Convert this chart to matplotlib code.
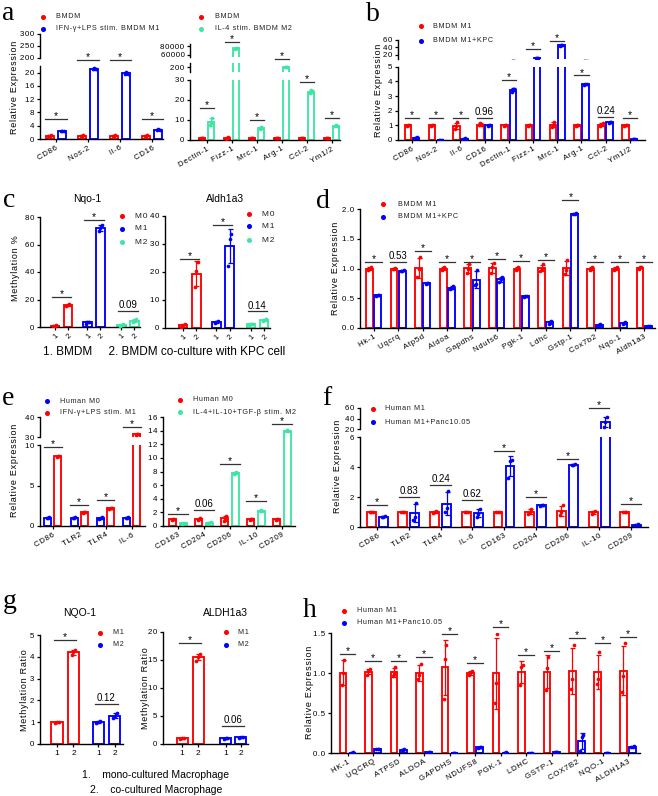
import matplotlib
matplotlib.use('Agg')
import matplotlib.pyplot as plt
from matplotlib.lines import Line2D
import numpy as np

plt.rcParams['font.family'] = ['Liberation Sans', 'DejaVu Sans']

RED = '#ff0000'
BLUE = '#0000ff'
GREEN = '#3ee6a6'

# ---------------- data (replicates per bar) ----------------
# a, left: M1 markers
a1_genes = ['CD86', 'Nos-2', 'Il-6', 'CD16']
a1_bmdm = [[0.85, 1.0, 1.15], [0.9, 1.0, 1.1], [0.8, 1.05, 1.15], [0.9, 1.0, 1.1]]
a1_m1 = [[2.4, 2.55, 2.5], [21.0, 21.5, 21.1], [19.6, 20.1, 19.7], [2.7, 2.9, 2.8]]
a1_sig = ['*', '*', '*', '*']

# a, right: M2 markers
a2_genes = ['Dectin-1', 'Fizz-1', 'Mrc-1', 'Arg-1', 'Ccl-2', 'Ym1/2']
a2_bmdm = [[0.8, 1.0, 1.2], [0.7, 1.0, 1.5], [0.9, 1.0, 1.1], [0.9, 1.0, 1.1], [0.9, 1.0, 1.1], [0.9, 1.0, 1.1]]
a2_m2 = [[7.5, 8.5, 11.0], [74000, 75500, 76500], [5.5, 6.5, 6.0], [200, 215, 212], [23.5, 25.0, 24.2], [6.8, 7.4, 7.2]]
a2_sig = ['*', '*', '*', '*', '*', '*']

# b
b_genes = ['CD86', 'Nos-2', 'Il-6', 'CD16', 'Dectin-1', 'Fizz-1', 'Mrc-1', 'Arg-1', 'Ccl-2', 'Ym1/2']
b_m1 = [[0.95, 1.0, 1.05], [0.95, 1.0, 1.05], [0.75, 0.95, 1.2], [1.0, 1.15, 1.0], [0.97, 1.0, 1.03],
        [0.96, 1.0, 1.04], [0.9, 1.05, 1.2], [0.97, 1.0, 1.03], [0.95, 1.05, 1.15], [0.97, 1.0, 1.03]]
b_kpc = [[0.12, 0.15, 0.2], [0.01, 0.02, 0.03], [0.08, 0.12, 0.1], [0.98, 1.0, 1.02], [3.3, 3.45, 3.5],
         [12.0, 12.3, 12.1], [44, 45.5, 45], [3.75, 3.85, 3.8], [1.15, 1.25, 1.2], [0.04, 0.06, 0.05]]
b_sig = ['*', '*', '*', '0.96', '*', '*', '*', '*', '0.24', '*']

# c: methylation %
c_ticks = ['1', '2']
c_nqo_m0 = [[0.5, 1.0, 1.5], [15.5, 16.0, 16.5]]
c_nqo_m1 = [[2.5, 3.5, 4.0], [70, 72, 74.5]]
c_nqo_m2 = [[1.0, 1.5, 2.0], [3.5, 4.5, 5.5]]
c_nqo_sig = ['*', '*', '0.09']
c_ald_m0 = [[0.5, 1.0, 1.4], [14.5, 20.3, 23.5]]
c_ald_m1 = [[1.8, 2.3, 2.6], [22.3, 31.8, 33.5]]
c_ald_m2 = [[1.0, 1.4, 1.6], [2.4, 2.8, 3.2]]
c_ald_sig = ['*', '*', '0.14']

# d
d_genes = ['Hk-1', 'Uqcrq', 'Atp5d', 'Aldoa', 'Gapdhs', 'Ndufs6', 'Pgk-1', 'Ldhc', 'Gstp-1', 'Cox7b2', 'Nqo-1', 'Aldh1a3']
d_m1 = [[0.98, 1.0, 1.02], [0.99, 1.0, 1.01], [0.85, 1.0, 1.19], [0.98, 1.0, 1.02], [0.93, 1.0, 1.08],
        [0.92, 1.02, 1.09], [0.98, 1.0, 1.02], [0.96, 1.0, 1.07], [0.9, 0.98, 1.14], [0.98, 1.0, 1.02],
        [0.97, 1.0, 1.03], [1.0, 1.02, 1.03]]
d_kpc = [[0.54, 0.55, 0.56], [0.95, 0.96, 0.97], [0.74, 0.75, 0.76], [0.66, 0.68, 0.7], [0.72, 0.74, 0.98],
         [0.78, 0.82, 0.86], [0.52, 0.53, 0.54], [0.07, 0.1, 0.12], [1.91, 1.92, 1.93], [0.03, 0.05, 0.06],
         [0.07, 0.08, 0.1], [0.02, 0.03, 0.04]]
d_sig = ['*', '0.53', '*', '*', '*', '*', '*', '*', '*', '*', '*', '*']

# e, left
e1_genes = ['CD86', 'TLR2', 'TLR4', 'IL-6']
e1_m0 = [[0.95, 1.0, 1.05], [0.95, 1.0, 1.05], [0.9, 1.0, 1.1], [0.95, 1.0, 1.05]]
e1_m1 = [[8.5, 8.7, 8.6], [1.65, 1.75, 1.7], [2.15, 2.25, 2.2], [31.0, 31.6, 31.3]]
e1_sig = ['*', '*', '*', '*']

# e, right
e2_genes = ['CD163', 'CD204', 'CD206', 'IL-10', 'CD209']
e2_m0 = [[0.9, 1.0, 1.1], [0.85, 1.0, 1.15], [0.8, 1.1, 1.5], [0.85, 1.0, 1.1], [0.95, 1.0, 1.05]]
e2_m2 = [[0.35, 0.4, 0.45], [0.45, 0.5, 0.55], [7.7, 7.8, 7.9], [2.2, 2.3, 2.25], [13.9, 14.1, 14.0]]
e2_sig = ['*', '0.06', '*', '*', '*']

# f
f_genes = ['CD86', 'TLR2', 'TLR4', 'IL-6', 'CD163', 'CD204', 'CD206', 'IL-10', 'CD209']
f_m1 = [[0.97, 1.0, 1.03], [0.97, 1.0, 1.03], [0.95, 1.0, 1.05], [0.98, 1.0, 1.02], [0.97, 1.0, 1.03],
        [0.85, 1.0, 1.2], [0.8, 1.0, 1.45], [0.9, 1.0, 1.1], [0.97, 1.0, 1.03]]
f_panc = [[0.65, 0.7, 0.72], [0.5, 0.7, 1.6], [1.0, 1.3, 2.4], [0.7, 0.85, 1.2], [3.3, 4.4, 4.5],
          [1.43, 1.45, 1.47], [4.13, 4.15, 4.17], [24, 33, 43], [0.13, 0.15, 0.17]]
f_sig = ['*', '0.83', '0.24', '0.62', '*', '*', '*', '*', '*']

# g: methylation ratio
g_nqo_m1 = [[0.97, 1.0, 1.03], [4.1, 4.2, 4.3]]
g_nqo_m2 = [[0.95, 1.0, 1.05], [1.2, 1.3, 1.4]]
g_nqo_sig = ['*', '0.12']
g_ald_m1 = [[0.95, 1.0, 1.05], [14.9, 15.6, 16.1]]
g_ald_m2 = [[0.95, 1.0, 1.05], [1.1, 1.2, 1.3]]
g_ald_sig = ['*', '0.06']

# h
h_genes = ['HK-1', 'UQCRQ', 'ATPSD', 'ALDOA', 'GAPDHS', 'NDUFS8', 'PGK-1', 'LDHC', 'GSTP-1', 'COX7B2', 'NQO-1', 'ALDH1A3']
h_m1 = [[0.85, 1.0, 1.16], [0.98, 1.02, 1.05], [0.96, 0.99, 1.07], [0.92, 0.97, 1.11], [0.68, 1.18, 1.35],
        [0.98, 1.0, 1.03], [0.62, 0.88, 1.49], [0.85, 1.08, 1.1], [0.79, 1.06, 1.2], [0.8, 0.93, 1.35],
        [0.86, 0.93, 1.26], [0.76, 0.96, 1.37]]
h_panc = [[0.0, 0.005, 0.01], [0.045, 0.05, 0.055], [0.035, 0.04, 0.045], [0.005, 0.01, 0.015],
          [0.0, 0.003, 0.006], [0.065, 0.07, 0.075], [0.002, 0.005, 0.008], [0.0, 0.003, 0.006],
          [0.008, 0.012, 0.016], [0.03, 0.2, 0.22], [0.0, 0.002, 0.004], [0.075, 0.08, 0.085]]
h_sig = ['*'] * 12

# ---------------- helpers ----------------
W, H = 658, 796
fig = plt.figure(figsize=(W / 100, H / 100), dpi=100)


def ax_px(l, t, r, b):
    return fig.add_axes([l / W, 1 - b / H, (r - l) / W, (b - t) / H])


def ls(s):
    # wide letter spacing like the Prism export
    return '\u200a'.join(s)


def style(ax, ylim, yticks, xlim, ylabels=None, bottom=True):
    ax.set_ylim(*ylim)
    ax.set_xlim(*xlim)
    ax.set_yticks(yticks)
    if ylabels is None:
        ylabels = [str(v) for v in yticks]
    ax.set_yticklabels([ls(s) for s in ylabels], fontsize=5.7)
    for s in ['top', 'right']:
        ax.spines[s].set_visible(False)
    ax.spines['left'].set_linewidth(1.0)
    ax.spines['bottom'].set_linewidth(1.0)
    ax.tick_params(direction='out', length=2.5, width=0.9, pad=1.5)
    if not bottom:
        ax.spines['bottom'].set_visible(False)
        ax.set_xticks([])
    ax.patch.set_alpha(0)


def xlabels(ax, xs, labels, rot=30, fs=5.7):
    ax.set_xticks(xs)
    if rot:
        ax.set_xticklabels([ls(s) for s in labels], fontsize=fs, rotation=rot,
                           ha='right', rotation_mode='anchor')
    else:
        ax.set_xticklabels(labels, fontsize=fs)


def bars(axes, xs, reps, color, width):
    m = np.array([np.mean(r) for r in reps])
    sd = np.array([np.std(r, ddof=1) for r in reps])
    for ax in axes:
        ax.bar(xs, m, width, color='white', edgecolor=color, linewidth=1.35, zorder=2)
        ax.errorbar(xs, m, yerr=sd, fmt='none', ecolor=color, elinewidth=0.9,
                    capsize=1.8, capthick=0.9, zorder=3)
        for x, r in zip(xs, reps):
            ax.scatter(x + np.array([-1, 0, 1]) * width * 0.18, r, s=7, color=color,
                       zorder=4, linewidths=0)


def sig(ax, x, y, label, half):
    ax.plot([x - half, x + half], [y, y], color='#333333', lw=0.9, clip_on=False, zorder=5)
    if label == '*':
        ax.annotate(label, (x, y), xytext=(0, -1.5), textcoords='offset points',
                    ha='center', va='bottom', fontsize=7.5, annotation_clip=False)
    else:
        ax.annotate(label, (x, y), xytext=(0, 0.5), textcoords='offset points',
                    ha='center', va='bottom', fontsize=7, annotation_clip=False)


def legend(x, ys, colors, labels, tx, fs=5.2):
    for y, c, lab in zip(ys, colors, labels):
        fig.add_artist(Line2D([x / W], [1 - y / H], marker='o', ms=2.6, color=c,
                              linestyle='none', transform=fig.transFigure))
        fig.text(tx / W, 1 - y / H, ls(lab), va='center', fontsize=fs, color='#222222')


def ylab(x, y, s, fs=6.5, spaced=True):
    fig.text(x / W, 1 - y / H, ls(s) if spaced else s, rotation=90, ha='center', va='center', fontsize=fs)


def letter(x, y, s):
    fig.text(x / W, 1 - y / H, s, fontsize=20, family='Liberation Serif', va='baseline')


# ---------------- a ----------------
x = np.arange(len(a1_genes))
axl = ax_px(40, 66, 163, 139)
axu = ax_px(40, 34, 163, 58)
style(axl, (0, 22), [0, 4, 8, 12, 16, 20], (-0.5, 3.34))
style(axu, (200, 300), [200, 250, 300], (-0.5, 3.34), bottom=False)
bars([axl, axu], x - 0.19, a1_bmdm, RED, 0.25)
bars([axl, axu], x + 0.19, a1_m1, BLUE, 0.25)
xlabels(axl, x, a1_genes)
for i, h in enumerate([6, 23.7, 23.7, 6]):
    sig(axl, i, h, a1_sig[i], 0.33)

x = np.arange(len(a2_genes))
axl = ax_px(190, 80, 340, 140)
axm = ax_px(190, 63, 340, 72)
axu = ax_px(190, 44, 340, 57)
style(axl, (0, 30), [0, 10, 20, 30], (-0.66, 5.34))
style(axm, (100, 300), [200], (-0.66, 5.34), bottom=False)
style(axu, (55500, 84500), [60000, 80000], (-0.66, 5.34), bottom=False)
bars([axl, axm, axu], x - 0.17, a2_bmdm, RED, 0.24)
bars([axl, axm, axu], x + 0.17, a2_m2, GREEN, 0.24)
xlabels(axl, x, a2_genes)
sig(axl, 0, 16, a2_sig[0], 0.28)
sig(axu, 1, 88900, a2_sig[1], 0.28)
sig(axl, 2, 10, a2_sig[2], 0.28)
sig(axm, 3, 387, a2_sig[3], 0.28)
sig(axl, 4, 29, a2_sig[4], 0.28)
sig(axl, 5, 11, a2_sig[5], 0.28)

legend(43, [17, 29], [RED, BLUE], ['BMDM', 'IFN-γ+LPS stim. BMDM M1'], 56)
legend(201, [17, 29], [RED, GREEN], ['BMDM', 'IL-4 stim. BMDM M2'], 215)
ylab(15, 87, 'Relative Expression')
letter(2, 20, 'a')

# ---------------- b ----------------
x = np.arange(len(b_genes))
axl = ax_px(398, 66.7, 645, 140)
axu = ax_px(398, 39.7, 645, 58.7)
style(axl, (0, 5), [0, 1, 2, 3, 4, 5], (-0.58, 9.63))
style(axu, (10, 60), [20, 40, 60], (-0.58, 9.63), bottom=False)
bars([axl, axu], x - 0.17, b_m1, RED, 0.27)
bars([axl, axu], x + 0.17, b_kpc, BLUE, 0.27)
xlabels(axl, x, b_genes)
for i, h in enumerate([1.5, 1.5, 1.5, 1.5, 4.1, None, None, 4.4, 1.6, 1.5]):
    if h is not None:
        sig(axl, i, h, b_sig[i], 0.3)
sig(axu, 5, 35.5, b_sig[5], 0.3)
sig(axu, 6, 55.8, b_sig[6], 0.3)
legend(421, [26, 41], [RED, BLUE], ['BMDM M1', 'BMDM M1+KPC'], 433)
ylab(378, 90, 'Relative Expression')
letter(366, 21, 'b')

# ---------------- c ----------------
pos = np.array([0, 1, 2.5, 3.5, 5.1, 6.1])
ax = ax_px(40, 217, 140, 327)
style(ax, (0, 80), [0, 20, 40, 60, 80], (-1.15, 6.54))
bars([ax], pos[0:2], c_nqo_m0, RED, 0.65)
bars([ax], pos[2:4], c_nqo_m1, BLUE, 0.65)
bars([ax], pos[4:6], c_nqo_m2, GREEN, 0.65)
xlabels(ax, pos, c_ticks * 3, rot=45, fs=5.5)
for k, h in enumerate([22, 78, 11.6]):
    sig(ax, pos[2 * k] + 0.5, h, c_nqo_sig[k], 0.75)
legend(122, [216, 229, 242], [RED, BLUE, GREEN], ['M0', 'M1', 'M2'], 135, fs=6)
fig.text(87 / W, 1 - 199 / H, 'Nqo-1', ha='center', va='center', fontsize=7.5)

ax = ax_px(165, 216, 270, 328)
style(ax, (0, 40), [0, 10, 20, 30, 40], (-1.35, 6.54))
bars([ax], pos[0:2], c_ald_m0, RED, 0.65)
bars([ax], pos[2:4], c_ald_m1, BLUE, 0.65)
bars([ax], pos[4:6], c_ald_m2, GREEN, 0.65)
xlabels(ax, pos, c_ticks * 3, rot=45, fs=5.5)
for k, h in enumerate([24.6, 36.8, 6]):
    sig(ax, pos[2 * k] + 0.5, h, c_ald_sig[k], 0.72)
legend(249, [214, 226, 240], [RED, BLUE, GREEN], ['M0', 'M1', 'M2'], 262, fs=6)
fig.text(225 / W, 1 - 199 / H, 'Aldh1a3', ha='center', va='center', fontsize=7.5)

fig.text(43 / W, 1 - 352 / H, '1. BMDM     2. BMDM co-culture with KPC cell', va='center', fontsize=8.5)
ylab(15, 268, 'Methylation %')
letter(3, 207, 'c')

# ---------------- d ----------------
x = np.arange(len(d_genes))
ax = ax_px(360, 209, 655, 328)
style(ax, (0, 2), [0, 0.5, 1, 1.5, 2], (-0.55, 11.44), ['0.0', '0.5', '1.0', '1.5', '2.0'])
bars([ax], x - 0.17, d_m1, RED, 0.28)
bars([ax], x + 0.17, d_kpc, BLUE, 0.28)
xlabels(ax, x, d_genes)
for i, h in enumerate([1.11, 1.11, 1.3, 1.11, 1.11, 1.16, 1.13, 1.14, 2.15, 1.11, 1.11, 1.11]):
    sig(ax, i, h, d_sig[i], 0.33)
legend(383, [204, 217], [RED, BLUE], ['BMDM M1', 'BMDM M1+KPC'], 398)
ylab(336, 268, 'Relative Expression')
letter(316, 208, 'd')

# ---------------- e ----------------
x = np.arange(len(e1_genes))
axl = ax_px(40, 445, 145, 526)
axu = ax_px(40, 417, 145, 437)
style(axl, (0, 10), [0, 5, 10], (-0.49, 3.5))
style(axu, (30, 40), [30, 40], (-0.49, 3.5), bottom=False)
bars([axl, axu], x - 0.19, e1_m0, BLUE, 0.27)
bars([axl, axu], x + 0.19, e1_m1, RED, 0.27)
xlabels(axl, x, e1_genes)
for i, h in enumerate([9.75, 2.6, 3.2]):
    sig(axl, i, h, e1_sig[i], 0.34)
sig(axu, 3, 35.2, e1_sig[3], 0.34)

x = np.arange(len(e2_genes))
ax = ax_px(163, 417, 295, 526)
style(ax, (0, 16), [0, 2, 4, 6, 8, 10, 12, 14, 16], (-0.58, 4.5))
bars([ax], x - 0.2, e2_m0, RED, 0.27)
bars([ax], x + 0.2, e2_m2, GREEN, 0.27)
xlabels(ax, x, e2_genes)
for i, h in enumerate([1.75, 2.35, 9.1, 3.7, 14.9]):
    sig(ax, i, h, e2_sig[i], 0.38)

legend(47, [401, 413], [BLUE, RED], ['Human M0', 'IFN-γ+LPS stim. M1'], 60)
legend(180, [400, 412], [RED, GREEN], ['Human M0', 'IL-4+IL-10+TGF-β stim. M2'], 193)
ylab(15, 470, 'Relative Expression')
letter(2, 405, 'e')

# ---------------- f ----------------
x = np.arange(len(f_genes))
axl = ax_px(360, 437, 648, 527)
axu = ax_px(360, 408, 648, 429)
style(axl, (0, 6), [0, 2, 4, 6], (-0.54, 8.54))
style(axu, (20, 60), [20, 40, 60], (-0.54, 8.54), bottom=False)
bars([axl, axu], x - 0.19, f_m1, RED, 0.28)
bars([axl, axu], x + 0.19, f_panc, BLUE, 0.28)
xlabels(axl, x, f_genes)
for i, h in enumerate([1.47, 2.0, 2.8, 1.8, 5.07, 2.0, 4.53, None, 1.53]):
    if h is not None:
        sig(axl, i, h, f_sig[i], 0.32)
sig(axu, 7, 59.4, f_sig[7], 0.32)
legend(373, [409, 422], [RED, BLUE], ['Human M1', 'Human M1+Panc10.05'], 385)
ylab(337, 466, 'Relative Expression')
letter(322, 405, 'f')

# ---------------- g ----------------
pos = np.array([0, 1, 2.5, 3.5])
ax = ax_px(40, 635, 123, 744)
style(ax, (0, 5), [0, 1, 2, 3, 4, 5], (-1.03, 4.0))
bars([ax], pos[0:2], g_nqo_m1, RED, 0.67)
bars([ax], pos[2:4], g_nqo_m2, BLUE, 0.67)
xlabels(ax, pos, c_ticks * 2, rot=0, fs=6)
sig(ax, 0.5, 4.75, g_nqo_sig[0], 0.67)
sig(ax, 3.0, 1.83, g_nqo_sig[1], 0.67)
legend(100, [633, 645], [RED, BLUE], ['M1', 'M2'], 113)
fig.text(80 / W, 1 - 613 / H, 'NQO-1', ha='center', va='center', fontsize=7.5)
ylab(25, 690, 'Methylation Ratio')

pos = np.array([0, 1, 2.7, 3.65])
ax = ax_px(163, 632, 248, 744)
style(ax, (0, 20), [0, 5, 10, 15, 20], (-1.19, 4.1))
bars([ax], pos[0:2], g_ald_m1, RED, 0.67)
bars([ax], pos[2:4], g_ald_m2, BLUE, 0.67)
xlabels(ax, pos, c_ticks * 2, rot=0, fs=6)
sig(ax, 0.5, 18, g_ald_sig[0], 0.67)
sig(ax, 3.17, 3.2, g_ald_sig[1], 0.67)
legend(226, [632, 645], [RED, BLUE], ['M1', 'M2'], 238)
fig.text(225 / W, 1 - 613 / H, 'ALDH1a3', ha='center', va='center', fontsize=7.5)
ylab(145, 688, 'Methylation Ratio')

fig.text(156 / W, 1 - 775 / H, '1.    mono-cultured Macrophage', ha='center', va='center', fontsize=7.5)
fig.text(156 / W, 1 - 790 / H, '2.    co-cultured Macrophage', ha='center', va='center', fontsize=7.5)
letter(3, 608, 'g')

# ---------------- h ----------------
x = np.arange(len(h_genes))
ax = ax_px(331, 633, 640, 753)
style(ax, (0, 1.5), [0, 0.5, 1, 1.5], (-0.65, 11.47), ['0.0', '0.5', '1.0', '1.5'])
bars([ax], x - 0.18, h_m1, RED, 0.27)
bars([ax], x + 0.18, h_panc, BLUE, 0.27)
xlabels(ax, x, h_genes)
for i, h in enumerate([1.24, 1.15, 1.15, 1.2, 1.49, 1.12, 1.58, 1.22, 1.27, 1.44, 1.38, 1.45]):
    sig(ax, i, h, h_sig[i], 0.3)
legend(344, [611, 623], [RED, BLUE], ['Human M1', 'Human M1+Panc10.05'], 357)
ylab(309, 692, 'Relative Expression')
letter(303, 617, 'h')

fig.savefig('out.png', dpi=100)
